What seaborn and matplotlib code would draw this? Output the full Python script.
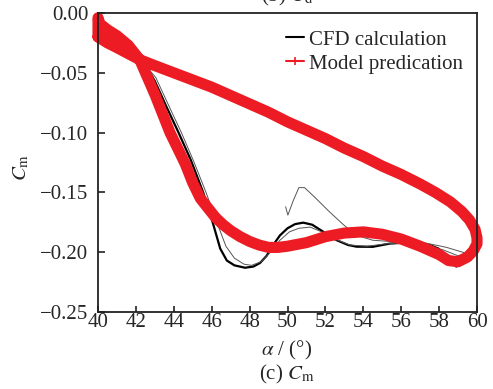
import matplotlib
matplotlib.use("Agg")
import matplotlib.pyplot as plt
import seaborn as sns
from matplotlib.lines import Line2D

# ---- Model prediction: one closed hysteresis loop ----
model_alpha_up = [40.0, 40.5, 41.0, 41.6, 42.2, 43.0, 44.0, 45.0, 46.0, 47.0, 48.0, 49.0, 50.0,
                  51.0, 52.0, 53.0, 54.0, 55.0, 56.0, 57.0, 57.8, 58.6, 59.2, 59.6, 59.9, 60.0]
model_cm_up = [-0.020, -0.025, -0.029, -0.034, -0.039, -0.044, -0.050, -0.056, -0.062, -0.069,
               -0.076, -0.083, -0.091, -0.098, -0.105, -0.113, -0.120, -0.128, -0.135, -0.143,
               -0.150, -0.158, -0.166, -0.173, -0.181, -0.188]
model_alpha_down = [60.0, 59.8, 59.5, 59.0, 58.5, 58.0, 57.0, 56.0, 55.0, 54.0, 53.0, 52.0, 51.0,
                    50.0, 49.5, 49.0, 48.5, 48.0, 47.5, 47.0, 46.6, 46.2, 45.8, 45.4, 45.0, 44.6,
                    43.8, 43.0, 42.2, 41.6, 41.0, 40.5, 40.1, 40.0, 40.0]
model_cm_down = [-0.193, -0.199, -0.204, -0.208, -0.207, -0.202, -0.195, -0.189, -0.185, -0.183,
                 -0.184, -0.187, -0.192, -0.195, -0.196, -0.196, -0.194, -0.191, -0.187, -0.182,
                 -0.177, -0.171, -0.163, -0.155, -0.142, -0.126, -0.100, -0.068, -0.039, -0.027,
                 -0.019, -0.014, -0.009, -0.004, -0.020]

# ---- CFD: converged cycle ----
cfd_alpha_low = [40.0, 40.1, 40.5, 41.0, 41.6, 42.1, 42.6, 43.0, 43.6, 44.25, 44.9, 45.55,
                 46.05, 46.45, 46.8, 47.2, 47.76, 48.2, 48.55, 48.9, 49.2, 49.6, 50.0, 50.4,
                 50.83, 51.3, 51.9, 52.6, 53.2, 53.65, 54.5, 55.4, 56.2, 56.9, 57.5, 57.97,
                 58.5, 58.9, 59.27, 59.7, 60.0]
cfd_cm_low = [-0.008, -0.010, -0.015, -0.020, -0.027, -0.036, -0.046, -0.057, -0.078, -0.100,
              -0.123, -0.150, -0.175, -0.197, -0.207, -0.211, -0.213, -0.212, -0.209, -0.203,
              -0.195, -0.186, -0.180, -0.1765, -0.1753, -0.177, -0.183, -0.190, -0.194,
              -0.1954, -0.1955, -0.1928, -0.192, -0.1926, -0.194, -0.197, -0.204, -0.212,
              -0.209, -0.200, -0.190]
cfd_alpha_high = [60.0, 59.8, 59.4, 58.8, 58.0, 57.2, 56.3, 55.2, 54.2, 53.2, 52.0, 51.0, 50.0,
                  49.0, 48.0, 47.0, 46.0, 45.0, 44.0, 43.0, 42.2, 41.6, 41.0, 40.5, 40.0]
cfd_cm_high = [-0.188, -0.181, -0.172, -0.162, -0.154, -0.147, -0.139, -0.130, -0.124, -0.116,
               -0.106, -0.099, -0.092, -0.084, -0.079, -0.070, -0.063, -0.057, -0.051, -0.045,
               -0.040, -0.035, -0.030, -0.025, -0.020]

# ---- CFD: start-up transient and following cycle ----
start_alpha = [49.9, 50.02, 50.3, 50.6, 50.9, 51.5, 52.2, 52.95, 53.65, 54.5, 55.4, 56.9, 58.4,
               59.45, 59.9, 60.0]
start_cm = [-0.162, -0.169, -0.157, -0.146, -0.146, -0.155, -0.166, -0.177, -0.186, -0.190,
            -0.191, -0.191, -0.196, -0.201, -0.195, -0.190]
cyc2_alpha = [40.0, 40.5, 41.0, 41.6, 42.2, 43.05, 43.75, 44.4, 45.05, 45.7, 46.25, 46.75, 47.2,
              47.7, 48.1, 48.6, 49.1, 49.6, 50.1, 50.6, 51.2, 51.8, 52.5, 53.3, 54.2, 55.2,
              56.2, 57.2, 58.2, 59.0, 59.5, 60.0]
cyc2_cm = [-0.008, -0.015, -0.020, -0.027, -0.038, -0.054, -0.078, -0.100, -0.124, -0.150,
           -0.174, -0.195, -0.205, -0.210, -0.211, -0.208, -0.200, -0.190, -0.183, -0.180,
           -0.179, -0.183, -0.189, -0.194, -0.195, -0.193, -0.192, -0.194, -0.198, -0.203,
           -0.201, -0.190]

xticks = [40, 42, 44, 46, 48, 50, 52, 54, 56, 58, 60]
yticks = [0.0, -0.05, -0.10, -0.15, -0.20, -0.25]
ytick_labels = ["0.00", "\u22120.05", "\u22120.10", "\u22120.15", "\u22120.20", "\u22120.25"]
legend_labels = ["CFD calculation", "Model predication"]

RED = "#ED1C24"

sns.set_style("ticks", {"xtick.direction": "in", "ytick.direction": "in"})
plt.rcParams["font.family"] = ["Liberation Serif", "DejaVu Serif"]
plt.rcParams["mathtext.fontset"] = "stix"

fig = plt.figure(figsize=(4.93, 3.89), dpi=100)
ax = fig.add_axes([98 / 493, 1 - 312 / 389, (477 - 98) / 493, (312 - 13) / 389])

# CFD curves
sns.lineplot(x=cfd_alpha_low + cfd_alpha_high, y=cfd_cm_low + cfd_cm_high, sort=False,
             estimator=None, color="black", lw=1.6, ax=ax)
sns.lineplot(x=start_alpha + cfd_alpha_high + cyc2_alpha, y=start_cm + cfd_cm_high + cyc2_cm,
             sort=False, estimator=None, color="#555555", lw=0.7, ax=ax)

# model loop drawn on top
sns.lineplot(x=model_alpha_up + model_alpha_down, y=model_cm_up + model_cm_down,
             sort=False, estimator=None, color=RED, lw=8, ax=ax)
model_line = ax.lines[-1]
model_line.set_clip_on(False)
model_line.set_solid_joinstyle("round")
model_line.set_solid_capstyle("round")

ax.set_xlim(40, 60)
ax.set_ylim(-0.25, 0.0)
ax.set_xticks(xticks)
ax.set_xticklabels([str(t) for t in xticks])
ax.set_yticks(yticks)
ax.set_yticklabels(ytick_labels)
ax.tick_params(axis="both", labelsize=15, width=1.2, color="#222222")
ax.tick_params(axis="x", length=4.5, pad=1)
ax.tick_params(axis="y", length=5, pad=7)
for s in ax.spines.values():
    s.set_visible(True)
    s.set_linewidth(1.3)
    s.set_color("#222222")
ax.set_xlabel("")
ax.set_ylabel("")

handles = [Line2D([0], [0], color="black", lw=1.5),
           Line2D([0], [0], color=RED, lw=1.5, marker="+", ms=6, mew=1.2)]
ax.legend(handles=handles, labels=legend_labels, frameon=False, loc="upper right",
          bbox_to_anchor=(463 / 493, 1 - 30 / 389), bbox_transform=fig.transFigure,
          fontsize=15, handlelength=0.85, handletextpad=0.25, labelspacing=0.22,
          borderpad=0, borderaxespad=0)

fig.text(21 / 493, 1 - 167 / 389, r"$C_\mathrm{m}$", fontsize=15, rotation=90,
         ha="center", va="center")
fig.text(287 / 493, 1 - 350 / 389, r"$\alpha$ / (°)", fontsize=15, ha="center", va="center")
fig.text(287 / 493, 1 - 374 / 389, r"(c) $C_\mathrm{m}$", fontsize=15, ha="center", va="center")
fig.text(287 / 493, 1 - 1 / 389, r"(b) $C_\mathrm{d}$", fontsize=15, ha="center", va="baseline")

fig.savefig("out.png", dpi=100)
